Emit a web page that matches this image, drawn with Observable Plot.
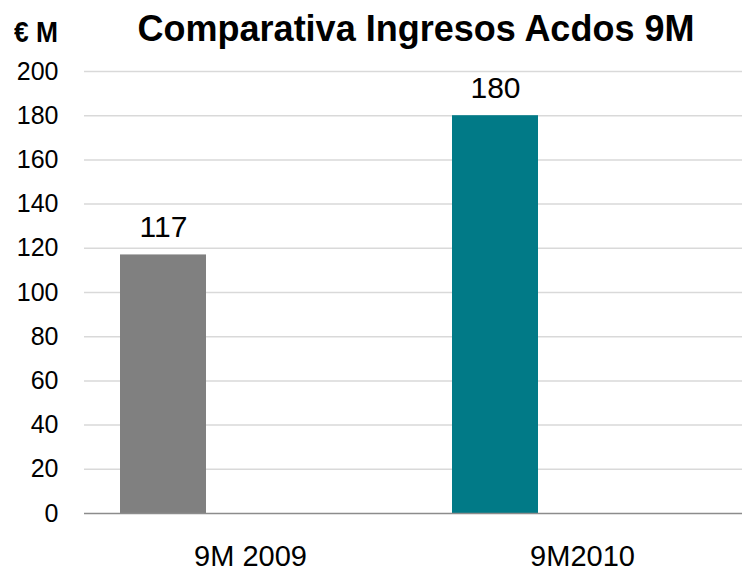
<!DOCTYPE html>
<html>
<head>
<meta charset="utf-8">
<script src="https://cdn.jsdelivr.net/npm/d3@7"></script>
<script src="https://cdn.jsdelivr.net/npm/@observablehq/plot@0.6"></script>
<style>
  html, body { margin: 0; padding: 0; background: #fff; overflow: hidden; width: 742px; height: 576px; }
  body { font-family: "Liberation Sans", Arial, sans-serif; }
  #header { position: relative; height: 55px; width: 742px; }
  #unit { position: absolute; left: 14px; top: 17px; font-size: 30px; line-height: 1; font-weight: bold; color: #000; white-space: nowrap; transform: scaleX(0.88); transform-origin: left; }
  #title { position: absolute; left: 416px; top: 11px; transform: translateX(-50%); font-size: 36px; line-height: 1; font-weight: bold; color: #000; white-space: nowrap; }
  #chart svg { max-width: none !important; display: block; }
</style>
</head>
<body>
<div id="header">
  <div id="unit">€ M</div>
  <div id="title">Comparativa Ingresos Acdos 9M</div>
</div>
<div id="chart"></div>
<script>
const periods = ["9M 2009", "9M2010"];
const values = [117, 180];
const colors = ["#808080", "#017A87"];
const seriesName = "Ingresos";
const yTicks = [0, 20, 40, 60, 80, 100, 120, 140, 160, 180, 200];

const data = periods.map((p, i) => ({period: p, value: values[i], series: seriesName}));

const chart = Plot.plot({
  width: 748,
  height: 521,
  marginLeft: 84,
  marginRight: 0,
  marginTop: 16,
  marginBottom: 63,
  style: {fontFamily: "Liberation Sans, Arial, sans-serif", color: "#000", background: "#fff"},
  fx: {domain: periods, padding: 0, label: null},
  x: {domain: [seriesName], axis: null, paddingInner: 0, paddingOuter: 1.41, align: 0.147},
  y: {domain: [0, 200], label: null},
  color: {domain: periods, range: colors},
  marks: [
    Plot.gridY(yTicks.filter(t => t > 0), {stroke: "#d9d9d9", strokeOpacity: 1, strokeWidth: 1.5}),
    Plot.axisY(yTicks, {tickSize: 0, tickPadding: 26, fontSize: 25, fontWeight: "normal", label: null, fill: "#000"}),
    Plot.axisFx({anchor: "bottom", tickSize: 0, tickPadding: 32, fontSize: 29, fontWeight: "normal", label: null, fill: "#000"}),
    Plot.barY(data, {fx: "period", x: "series", y: "value", fill: "period"}),
    Plot.ruleY([0], {stroke: "#8c8c8c", strokeWidth: 1.5}),
    Plot.text(data, {fx: "period", x: "series", y: "value", text: d => String(d.value), lineAnchor: "bottom", dy: -18, fontSize: 30, fill: "#000"})
  ]
});
document.getElementById("chart").appendChild(chart);
</script>
</body>
</html>
